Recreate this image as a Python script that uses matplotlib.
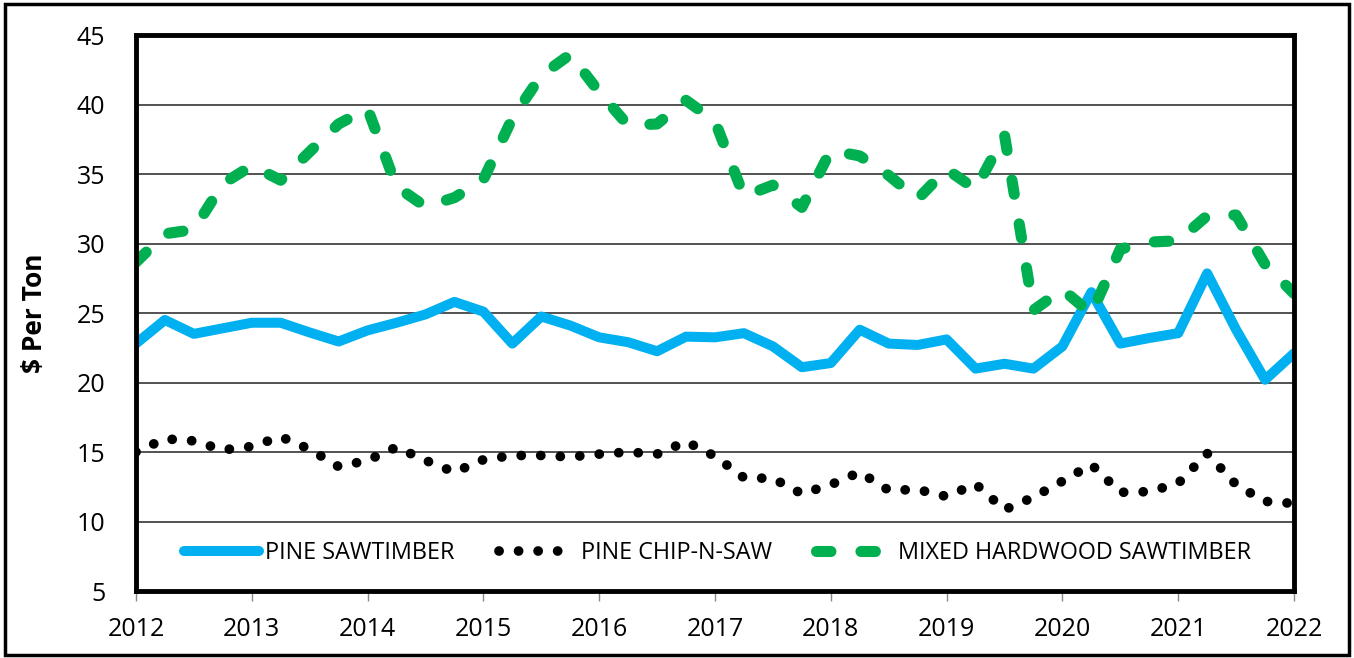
import matplotlib.pyplot as plt
from matplotlib.patches import Rectangle
import numpy as np

plt.rcParams['font.family'] = ['Open Sans', 'DejaVu Sans']

# quarterly prices, 2012 Q1 .. 2022 Q1
quarters = 2012 + np.arange(41) / 4
pine_saw = [22.8, 24.5, 23.5, 23.9, 24.3, 24.3, 23.6, 22.95, 23.75, 24.3,
            24.9, 25.8, 25.1, 22.8, 24.75, 24.1, 23.25, 22.9, 22.25, 23.3,
            23.25, 23.55, 22.6, 21.1, 21.4, 23.8, 22.8, 22.7, 23.1, 21.0,
            21.35, 21.0, 22.6, 26.5, 22.8, 23.2, 23.55, 27.85, 23.8, 20.2, 22.1]
chip_n_saw = [15.0, 15.95, 15.8, 15.15, 15.4, 16.1, 15.2, 13.95, 14.4, 15.35,
              14.4, 13.55, 14.45, 14.75, 14.75, 14.65, 14.85, 15.0, 14.85, 15.75,
              14.7, 13.15, 13.1, 12.0, 12.65, 13.55, 12.25, 12.3, 11.8, 12.7,
              10.85, 11.75, 12.9, 14.1, 12.1, 12.15, 12.75, 14.9, 12.65, 11.45, 11.3]
hardwood_saw = [28.65, 30.7, 31.0, 34.3, 35.6, 34.55, 36.6, 38.6, 39.7, 34.1,
                32.65, 33.3, 34.6, 39.0, 42.1, 43.6, 40.9, 38.5, 38.6, 40.3,
                38.8, 33.4, 34.2, 32.6, 36.7, 36.3, 34.9, 33.2, 35.35, 33.9,
                37.8, 25.2, 26.7, 24.95, 29.6, 30.1, 30.2, 32.0, 32.05, 28.5, 26.4]
year_ticks = list(range(2012, 2023))
y_ticks = list(range(5, 46, 5))

fig = plt.figure(figsize=(13.54, 6.58), dpi=100)
ax = fig.add_axes([0.1004, 0.1018, 0.8553, 0.845])

# outer chart-area border
fig.patches.append(Rectangle((0.004, 0.004), 0.992, 0.99, transform=fig.transFigure,
                             fill=False, edgecolor='black', linewidth=2.5))

ax.plot(quarters, pine_saw, color='#00b0f0', linewidth=7.2,
        solid_joinstyle='round', solid_capstyle='round', label='PINE SAWTIMBER')
ax.plot(quarters, chip_n_saw, color='black', linewidth=7,
        linestyle=(0, (0.01, 2.0)), dash_capstyle='round', label='PINE CHIP-N-SAW')
ax.plot(quarters, hardwood_saw, color='#00b050', linewidth=8,
        linestyle=(0, (1.3, 2.7)), dash_capstyle='round', label='MIXED HARDWOOD SAWTIMBER')

ax.set_xlim(2012, 2022)
ax.set_ylim(5, 45)
ax.set_xticks(year_ticks)
ax.set_yticks(y_ticks)
ax.grid(axis='y', color='#444444', linewidth=1.3)
ax.set_axisbelow(True)
for s in ax.spines.values():
    s.set_linewidth(3.5)
ax.tick_params(axis='x', labelsize=18, length=7, width=1, color='#888888', pad=12)
ax.tick_params(axis='y', labelsize=18, length=0, pad=22)

ax.set_ylabel('$ Per Ton', fontsize=19, fontweight='bold')
ax.yaxis.set_label_coords(-0.076, 0.50)

ax.legend(loc='center', bbox_to_anchor=(0.502, 0.068), ncol=3, frameon=False,
          fontsize=16.8, handlelength=3.25, handletextpad=0.25, columnspacing=1.9)

fig.savefig('out.png', dpi=100)
